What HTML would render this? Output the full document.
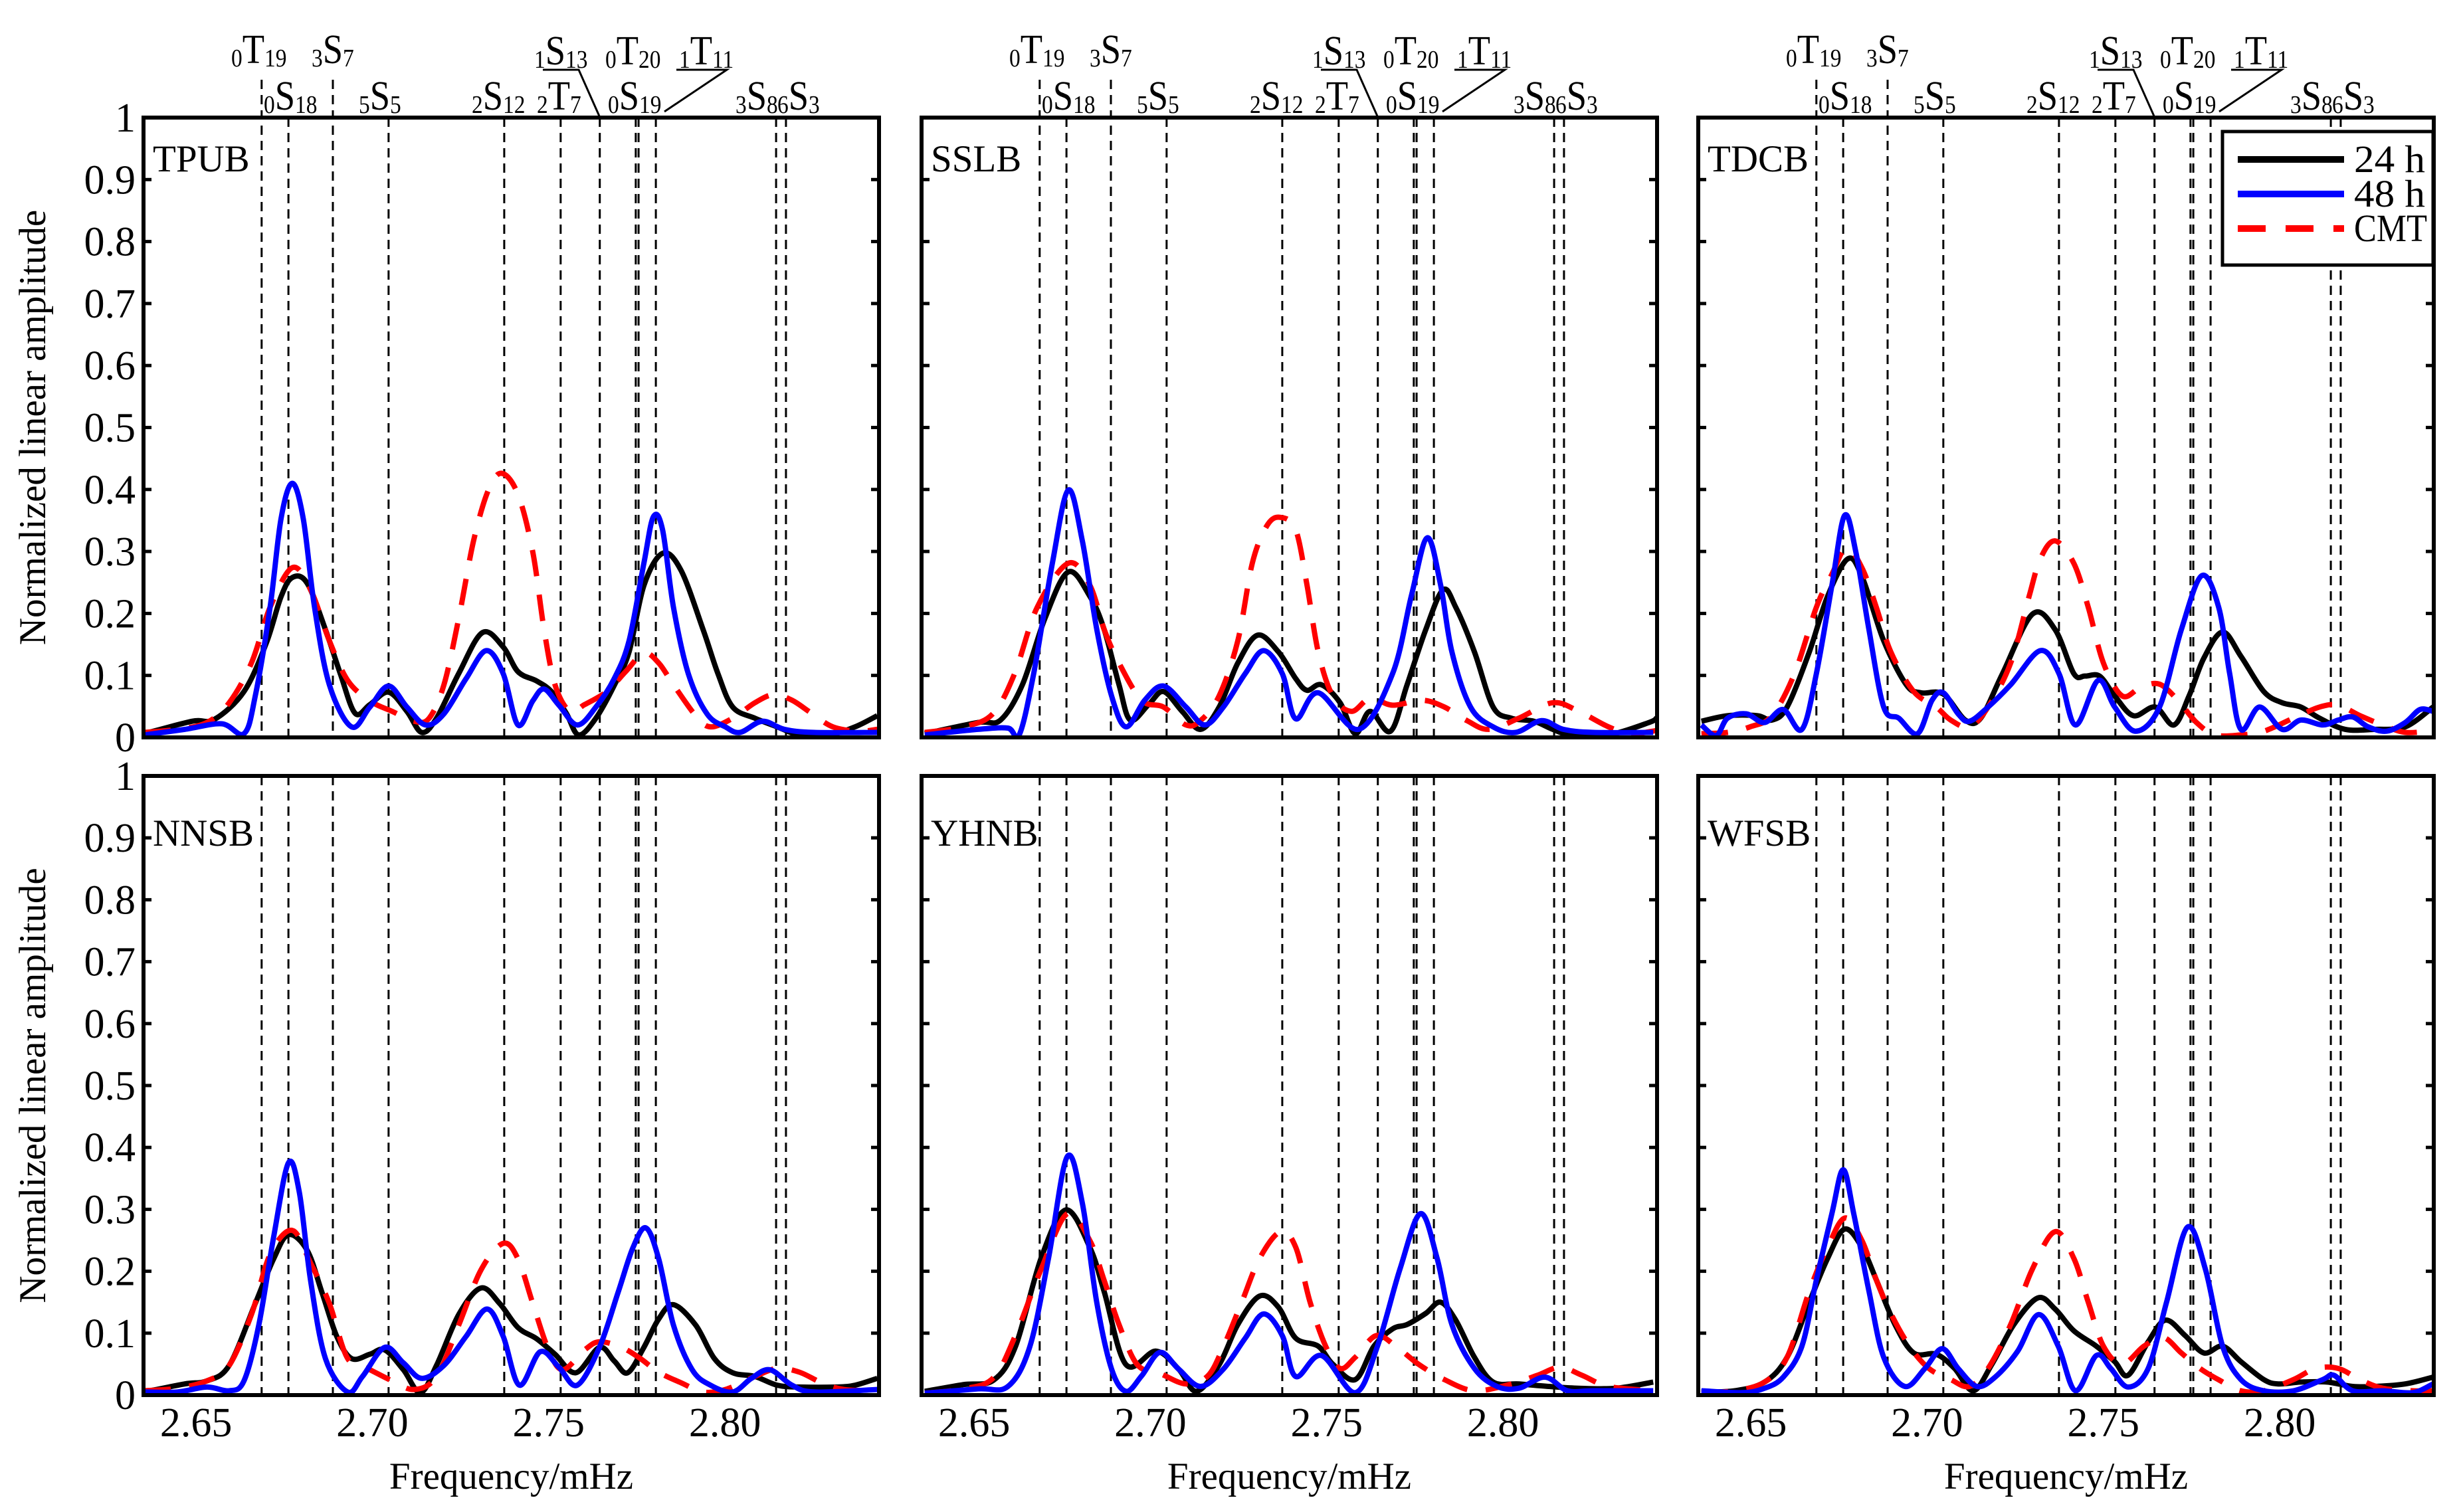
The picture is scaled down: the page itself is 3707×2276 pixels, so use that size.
<!DOCTYPE html>
<html><head><meta charset="utf-8"><title>Normalized amplitude spectra</title>
<style>
html,body{margin:0;padding:0;background:#fff;}
svg{display:block;}
text{font-family:"Liberation Serif",serif;fill:#000;}
</style></head>
<body>
<svg id="chart" xmlns="http://www.w3.org/2000/svg" width="3707" height="2276" viewBox="0 0 3707 2276">
<rect x="0" y="0" width="3707" height="2276" fill="#fff"/>
<g id="layer-lines"></g>
<g id="layer-curves"></g>
<g id="layer-axes"></g>
<g id="layer-text"></g>
</svg>
<script>
// ---- data: frequency (mHz) and normalized amplitude ----
const stations = ["TPUB","SSLB","TDCB","NNSB","YHNB","WFSB"];
const xTickValues = [2.65, 2.70, 2.75, 2.80];
const xTickLabels = ["2.65","2.70","2.75","2.80"];
const yTickValues = [0,0.1,0.2,0.3,0.4,0.5,0.6,0.7,0.8,0.9,1];
const yTickLabels = ["0","0.1","0.2","0.3","0.4","0.5","0.6","0.7","0.8","0.9","1"];
const modeFreqs = [2.6686,2.6762,2.6888,2.7046,2.7374,2.7534,2.7645,2.7747,2.7755,2.7804,2.8145,2.8173];

const tpubF24=[2.6353,2.6489,2.6552,2.6636,2.6699,2.6741,2.6773,2.6815,2.6867,2.6909,2.6951,2.6993,2.7046,2.7098,2.7140,2.7182,2.7245,2.7312,2.7371,2.7413,2.7466,2.7508,2.7550,2.7585,2.7634,2.7686,2.7728,2.7770,2.7823,2.7875,2.7938,2.7980,2.8022,2.8085,2.8148,2.8211,2.8295,2.8369,2.8432];
const tpubA24=[.006,.026,.029,.074,.152,.227,.258,.249,.174,.103,.039,.053,.073,.042,.008,.031,.103,.169,.146,.106,.091,.074,.039,.004,.031,.084,.138,.245,.297,.270,.174,.103,.049,.031,.017,.004,.004,.017,.035];
const tpubF48=[2.6353,2.6468,2.6573,2.6636,2.6668,2.6710,2.6741,2.6773,2.6804,2.6836,2.6878,2.6941,2.6993,2.7046,2.7098,2.7151,2.7203,2.7266,2.7323,2.7371,2.7413,2.7455,2.7487,2.7529,2.7581,2.7634,2.7686,2.7728,2.7770,2.7797,2.7823,2.7854,2.7896,2.7949,2.8001,2.8043,2.8106,2.8169,2.8253,2.8432];
const tpubA48=[.004,.013,.022,.006,.067,.210,.353,.410,.353,.210,.085,.017,.049,.083,.049,.020,.038,.095,.140,.103,.020,.059,.078,.052,.020,.049,.095,.156,.281,.356,.335,.210,.103,.038,.017,.008,.026,.013,.008,.008];
const tpubFc=[2.6353,2.6447,2.6531,2.6594,2.6657,2.6710,2.6773,2.6825,2.6878,2.6930,2.6993,2.7056,2.7119,2.7161,2.7203,2.7245,2.7287,2.7329,2.7367,2.7413,2.7455,2.7487,2.7518,2.7560,2.7602,2.7665,2.7718,2.7770,2.7812,2.7854,2.7917,2.7959,2.8022,2.8085,2.8138,2.8190,2.8243,2.8306,2.8379,2.8432];
const tpubAc=[.008,.013,.024,.056,.120,.210,.274,.238,.156,.092,.059,.042,.026,.031,.085,.192,.317,.399,.426,.392,.299,.174,.085,.042,.053,.074,.106,.136,.120,.085,.035,.017,.031,.056,.069,.060,.040,.017,.010,.013];

const sslbF24=[2.6360,2.6511,2.6575,2.6637,2.6701,2.6767,2.6828,2.6869,2.6911,2.6943,2.6995,2.7037,2.7090,2.7142,2.7195,2.7248,2.7304,2.7363,2.7412,2.7444,2.7485,2.7538,2.7581,2.7623,2.7681,2.7728,2.7781,2.7830,2.7866,2.7919,2.7972,2.8024,2.8088,2.8141,2.8194,2.8299,2.8414,2.8435];
const sslbA24=[.006,.024,.028,.085,.192,.267,.228,.174,.085,.028,.053,.074,.042,.013,.049,.120,.165,.138,.095,.076,.085,.056,.006,.042,.010,.085,.174,.238,.210,.138,.049,.031,.026,.013,.004,.004,.024,.031];
const sslbF48=[2.6360,2.6511,2.6596,2.6628,2.6669,2.6722,2.6767,2.6807,2.6848,2.6890,2.6931,2.6984,2.7037,2.7101,2.7154,2.7207,2.7269,2.7321,2.7374,2.7412,2.7476,2.7591,2.7687,2.7740,2.7785,2.7823,2.7855,2.7908,2.7972,2.8036,2.8109,2.8171,2.8256,2.8426];
const sslbA48=[.004,.013,.015,.004,.103,.281,.399,.317,.174,.067,.017,.060,.083,.049,.020,.049,.103,.140,.103,.030,.072,.013,.103,.228,.322,.246,.138,.049,.017,.008,.027,.013,.008,.008];
const sslbFc=[2.6360,2.6470,2.6553,2.6615,2.6679,2.6767,2.6828,2.6869,2.6911,2.6975,2.7037,2.7101,2.7142,2.7195,2.7248,2.7289,2.7331,2.7369,2.7412,2.7444,2.7476,2.7517,2.7570,2.7623,2.7687,2.7770,2.7834,2.7898,2.7960,2.8045,2.8141,2.8215,2.8299,2.8362,2.8435];
const sslbAc=[.008,.017,.038,.103,.210,.281,.246,.174,.120,.060,.049,.020,.027,.067,.156,.281,.342,.355,.335,.246,.138,.067,.042,.063,.052,.060,.049,.027,.013,.031,.056,.042,.017,.006,.011];

const tdcbF24=[2.6360,2.6434,2.6519,2.6560,2.6603,2.6666,2.6718,2.6775,2.6815,2.6877,2.6941,2.6982,2.7046,2.7108,2.7152,2.7214,2.7299,2.7363,2.7416,2.7448,2.7489,2.7532,2.7585,2.7647,2.7700,2.7743,2.7785,2.7838,2.7890,2.7955,2.8007,2.8060,2.8113,2.8186,2.8271,2.8356,2.8435];
const tdcbA24=[.026,.035,.035,.028,.049,.138,.228,.288,.260,.156,.085,.072,.070,.028,.031,.103,.199,.174,.103,.099,.099,.067,.035,.049,.020,.067,.128,.170,.131,.074,.056,.049,.031,.013,.013,.017,.049];
const tdcbF48=[2.6360,2.6402,2.6434,2.6487,2.6539,2.6592,2.6645,2.6686,2.6730,2.6766,2.6798,2.6835,2.6877,2.6920,2.6973,2.7014,2.7046,2.7088,2.7120,2.7173,2.7237,2.7321,2.7374,2.7421,2.7485,2.7532,2.7591,2.7659,2.7721,2.7779,2.7827,2.7858,2.7890,2.7943,2.8007,2.8060,2.8122,2.8166,2.8207,2.8251,2.8303,2.8356,2.8398,2.8435];
const tdcbA48=[.020,.003,.031,.038,.024,.045,.013,.103,.245,.358,.299,.174,.049,.031,.006,.060,.072,.038,.026,.049,.085,.140,.103,.020,.092,.049,.010,.049,.174,.261,.210,.103,.013,.049,.013,.028,.020,.028,.033,.017,.010,.024,.045,.042];
const tdcbFc=[2.6360,2.6434,2.6498,2.6560,2.6624,2.6686,2.6730,2.6771,2.6815,2.6856,2.6897,2.6962,2.7026,2.7067,2.7120,2.7173,2.7237,2.7289,2.7321,2.7363,2.7416,2.7457,2.7500,2.7553,2.7606,2.7659,2.7711,2.7764,2.7817,2.7890,2.7955,2.8039,2.8113,2.8166,2.8228,2.8292,2.8356,2.8435];
const tdcbAc=[.006,.008,.017,.035,.103,.210,.263,.306,.274,.210,.138,.074,.049,.028,.017,.049,.120,.227,.288,.317,.281,.210,.120,.067,.081,.086,.060,.024,.004,.004,.010,.031,.049,.052,.035,.020,.008,.011];

const nnsbF24=[2.6353,2.6468,2.6531,2.6594,2.6668,2.6720,2.6762,2.6815,2.6857,2.6899,2.6941,2.6993,2.7035,2.7088,2.7136,2.7182,2.7245,2.7308,2.7361,2.7413,2.7466,2.7518,2.7577,2.7644,2.7686,2.7724,2.7770,2.7812,2.7854,2.7917,2.7970,2.8022,2.8085,2.8148,2.8211,2.8316,2.8369,2.8432];
const nnsbA24=[.005,.018,.023,.048,.148,.220,.259,.234,.166,.095,.059,.066,.073,.041,.004,.048,.130,.173,.148,.109,.091,.066,.036,.077,.055,.036,.077,.123,.146,.113,.059,.036,.030,.016,.013,.013,.016,.027];
const nnsbF48=[2.6353,2.6447,2.6531,2.6594,2.6636,2.6678,2.6720,2.6762,2.6793,2.6825,2.6867,2.6930,2.6972,2.7035,2.7088,2.7140,2.7203,2.7266,2.7325,2.7371,2.7417,2.7476,2.7529,2.7581,2.7644,2.7697,2.7739,2.7776,2.7812,2.7854,2.7907,2.7959,2.8022,2.8075,2.8127,2.8190,2.8253,2.8432];
const nnsbA48=[.005,.005,.013,.007,.023,.113,.255,.375,.327,.184,.059,.005,.030,.077,.052,.027,.048,.095,.139,.095,.016,.070,.045,.016,.077,.166,.238,.270,.220,.113,.041,.016,.005,.027,.041,.016,.005,.009];
const nnsbFc=[2.6353,2.6447,2.6531,2.6594,2.6657,2.6710,2.6773,2.6825,2.6878,2.6930,2.6993,2.7056,2.7119,2.7182,2.7245,2.7308,2.7371,2.7413,2.7455,2.7497,2.7539,2.7602,2.7644,2.7707,2.7760,2.7812,2.7875,2.7938,2.8001,2.8085,2.8148,2.8211,2.8274,2.8337,2.8432];
const nnsbAc=[.007,.011,.023,.048,.130,.227,.266,.213,.148,.059,.041,.023,.009,.030,.113,.202,.245,.220,.148,.077,.041,.073,.086,.077,.059,.037,.020,.005,.009,.030,.043,.037,.020,.009,.007];

const yhnbF24=[2.6360,2.6470,2.6555,2.6617,2.6690,2.6760,2.6828,2.6869,2.6931,2.7016,2.7080,2.7131,2.7195,2.7248,2.7310,2.7363,2.7412,2.7476,2.7517,2.7581,2.7634,2.7687,2.7728,2.7781,2.7823,2.7866,2.7919,2.7972,2.8045,2.8130,2.8215,2.8320,2.8426];
const yhnbA24=[.006,.017,.024,.078,.221,.299,.239,.167,.049,.071,.042,.006,.049,.114,.160,.142,.092,.079,.050,.025,.079,.107,.114,.132,.150,.121,.061,.021,.018,.014,.011,.011,.021];
const yhnbF48=[2.6360,2.6511,2.6596,2.6658,2.6711,2.6764,2.6807,2.6848,2.6890,2.6931,2.6975,2.7027,2.7080,2.7142,2.7207,2.7269,2.7321,2.7374,2.7412,2.7485,2.7581,2.7644,2.7708,2.7766,2.7813,2.7855,2.7919,2.7983,2.8045,2.8119,2.8183,2.8256,2.8426];
const yhnbA48=[.003,.010,.014,.078,.221,.385,.310,.149,.042,.006,.031,.069,.042,.014,.042,.092,.131,.096,.030,.064,.004,.079,.204,.293,.221,.114,.043,.014,.011,.029,.007,.007,.007];
const yhnbFc=[2.6360,2.6470,2.6555,2.6617,2.6690,2.6764,2.6828,2.6869,2.6911,2.6963,2.7027,2.7101,2.7163,2.7207,2.7259,2.7310,2.7369,2.7412,2.7453,2.7497,2.7538,2.7581,2.7640,2.7696,2.7760,2.7834,2.7919,2.8024,2.8098,2.8162,2.8224,2.8299,2.8426];
const yhnbAc=[.003,.010,.028,.096,.203,.293,.250,.185,.114,.049,.035,.018,.031,.078,.150,.221,.264,.239,.150,.079,.043,.061,.096,.079,.050,.025,.007,.018,.032,.045,.032,.014,.007];

const wfsbF24=[2.6360,2.6455,2.6539,2.6603,2.6666,2.6718,2.6766,2.6815,2.6856,2.6909,2.6962,2.7026,2.7078,2.7131,2.7184,2.7246,2.7314,2.7363,2.7416,2.7480,2.7532,2.7570,2.7627,2.7676,2.7732,2.7785,2.7838,2.7890,2.7955,2.7996,2.8060,2.8134,2.8207,2.8271,2.8356,2.8435];
const wfsbA24=[.005,.007,.021,.061,.150,.221,.268,.239,.186,.114,.068,.066,.043,.007,.050,.114,.157,.139,.104,.079,.054,.032,.086,.121,.096,.068,.079,.054,.025,.018,.021,.021,.014,.014,.018,.029];
const wfsbF48=[2.6360,2.6477,2.6539,2.6592,2.6645,2.6686,2.6730,2.6762,2.6792,2.6835,2.6877,2.6937,2.6994,2.7043,2.7088,2.7141,2.7193,2.7257,2.7316,2.7372,2.7421,2.7480,2.7521,2.7570,2.7627,2.7679,2.7738,2.7789,2.7838,2.7890,2.7955,2.8039,2.8122,2.8154,2.8207,2.8292,2.8377,2.8435];
const wfsbA48=[.007,.004,.011,.029,.079,.186,.293,.364,.293,.168,.061,.014,.043,.075,.043,.014,.029,.071,.130,.079,.007,.064,.043,.013,.043,.150,.271,.204,.079,.025,.007,.007,.025,.032,.007,.007,.004,.018];
const wfsbFc=[2.6360,2.6455,2.6539,2.6603,2.6666,2.6718,2.6767,2.6815,2.6856,2.6897,2.6950,2.7005,2.7067,2.7120,2.7173,2.7237,2.7299,2.7363,2.7416,2.7457,2.7500,2.7553,2.7615,2.7670,2.7721,2.7774,2.7826,2.7890,2.7955,2.8039,2.8102,2.8166,2.8228,2.8292,2.8377,2.8435];
const wfsbAc=[.004,.007,.021,.061,.168,.239,.286,.250,.186,.132,.079,.043,.025,.014,.043,.114,.204,.264,.221,.150,.079,.050,.079,.093,.068,.043,.025,.007,.007,.025,.043,.043,.025,.011,.007,.007];

const seriesF24=[tpubF24,sslbF24,tdcbF24,nnsbF24,yhnbF24,wfsbF24];
const seriesA24=[tpubA24,sslbA24,tdcbA24,nnsbA24,yhnbA24,wfsbA24];
const seriesF48=[tpubF48,sslbF48,tdcbF48,nnsbF48,yhnbF48,wfsbF48];
const seriesA48=[tpubA48,sslbA48,tdcbA48,nnsbA48,yhnbA48,wfsbA48];
const seriesFc=[tpubFc,sslbFc,tdcbFc,nnsbFc,yhnbFc,wfsbFc];
const seriesAc=[tpubAc,sslbAc,tdcbAc,nnsbAc,yhnbAc,wfsbAc];

// ---- layout ----
const NS="http://www.w3.org/2000/svg";
const X_MIN=2.6351, X_PX=5307, PW=1107;
const colLeft=[216,1387,2556];
const rowTop=[177,1168], rowBottom=[1110,2100];
function xScale(col,f){return colLeft[col]+(f-X_MIN)*X_PX;}
function yScale(row,v){return rowBottom[row]-v*(rowBottom[row]-rowTop[row]);}
function mk(tag,attrs,parent){const e=document.createElementNS(NS,tag);for(const k in attrs)e.setAttribute(k,attrs[k]);parent.appendChild(e);return e;}
function crPath(pts){
  let d="M"+pts[0][0].toFixed(1)+","+pts[0][1].toFixed(1);
  for(let i=0;i<pts.length-1;i++){
    const p0=pts[Math.max(i-1,0)],p1=pts[i],p2=pts[i+1],p3=pts[Math.min(i+2,pts.length-1)];
    const c1x=p1[0]+(p2[0]-p0[0])/6,c1y=p1[1]+(p2[1]-p0[1])/6;
    const c2x=p2[0]-(p3[0]-p1[0])/6,c2y=p2[1]-(p3[1]-p1[1])/6;
    d+=" C"+c1x.toFixed(1)+","+c1y.toFixed(1)+" "+c2x.toFixed(1)+","+c2y.toFixed(1)+" "+p2[0].toFixed(1)+","+p2[1].toFixed(1);
  }
  return d;
}
const svg=document.getElementById("chart");
const gLines=document.getElementById("layer-lines");
const gCurves=document.getElementById("layer-curves");
const gAxes=document.getElementById("layer-axes");
const gText=document.getElementById("layer-text");
const defs=mk("defs",{},svg);

for(let p=0;p<6;p++){
  const col=p%3,row=Math.floor(p/3);
  const L=colLeft[col],T=rowTop[row],B=rowBottom[row];
  const cp=mk("clipPath",{id:"clip"+p},defs);
  mk("rect",{x:L,y:T,width:PW,height:B-T},cp);
  modeFreqs.forEach((f,i)=>{
    const x=xScale(col,f);
    const top=(row===0&&(i===0||i===2))?120:T;
    const ln=mk("line",{x1:x,y1:top,x2:x,y2:B,stroke:"#000","stroke-width":3,"stroke-dasharray":"14 9"},gLines);
    
    
  });
  const g=mk("g",{"clip-path":"url(#clip"+p+")"},gCurves);
  
  
  const defsS=[[seriesFc[p],seriesAc[p],"#ff0000","40 28","cmt"],[seriesF24[p],seriesA24[p],"#000000",null,"24h"],[seriesF48[p],seriesA48[p],"#0000ff",null,"48h"]];
  const order=[1,0,2];
  order.forEach(k=>{
    const s=defsS[k];const n=Math.min(s[0].length,s[1].length);const pts=[];
    for(let i=0;i<n;i++)pts.push([xScale(col,s[0][i]),yScale(row,s[1][i])]);
    const a={d:crPath(pts),fill:"none",stroke:s[2],"stroke-width":8,"stroke-linejoin":"round"};
    if(s[3])a["stroke-dasharray"]=s[3];
    const path=mk("path",a,g);
    
    
  });
  const box=mk("rect",{x:L,y:T,width:PW,height:B-T,fill:"none",stroke:"#000","stroke-width":6},gAxes);
  
  
  yTickValues.forEach((v,i)=>{
    const y=yScale(row,v);
    mk("line",{x1:L,y1:y,x2:L+12,y2:y,stroke:"#000","stroke-width":5},gAxes);
    mk("line",{x1:L+PW-12,y1:y,x2:L+PW,y2:y,stroke:"#000","stroke-width":5},gAxes);
    if(col===0){
      const t=mk("text",{x:L-12,y:y+21,"font-size":62,"text-anchor":"end"},gText);
      t.textContent=yTickLabels[i];
      
      
    }
  });
  if(row===1){
    xTickValues.forEach((v,i)=>{
      const t=mk("text",{x:xScale(col,v),y:2162,"font-size":62,"text-anchor":"middle"},gText);
      t.textContent=xTickLabels[i];
      
      
    });
    const xt=mk("text",{x:L+PW/2,y:2241,"font-size":57,"text-anchor":"middle"},gText);
    xt.textContent="Frequency/mHz";
    
    
  }
  const st=mk("text",{x:L+14,y:row===0?T+81:T+105,"font-size":57},gText);
  st.textContent=stations[p];
  
  
  if(col===0){
    const yt=mk("text",{x:0,y:0,"font-size":57,"text-anchor":"middle",transform:"translate(68,"+((T+B)/2)+") rotate(-90)"},gText);
    yt.textContent="Normalized linear amplitude";
    
    
  }
  if(row===0){
    const labs=[["0","T","19",132,95],["3","S","7",253,95],["1","S","13",588,97],["0","T","20",695,97],["1","T","11",806,97],
                ["0","S","18",181,165],["5","S","5",324,165],["2","S","12",494,165],["2","T","7",592,165],["0","S","19",699,165],["3","S","8",891,165],["6","S","3",954,165]];
    labs.forEach(l=>{
      const t=mk("text",{x:0,y:0,"font-size":62,transform:"translate("+(L+l[3])+","+l[4]+") scale(0.88,1)"},gText);
      
      
      const a=mk("tspan",{"font-size":38,dy:5},t);a.textContent=l[0];
      const b=mk("tspan",{"font-size":62,dy:-5},t);b.textContent=l[1];
      const c=mk("tspan",{"font-size":38,dy:5},t);c.textContent=l[2];
    });
    const o1=mk("polyline",{points:(L+601)+",105 "+(L+655)+",105 "+(L+687)+",177",fill:"none",stroke:"#000","stroke-width":3},gText);
    
    
    const o2=mk("polyline",{points:(L+802)+",105 "+(L+878)+",105 "+(L+784)+",168",fill:"none",stroke:"#000","stroke-width":3},gText);
    
    
  }
}
const lg=mk("g",{},svg);


mk("rect",{x:3345,y:198,width:317,height:201,fill:"#fff",stroke:"#000","stroke-width":5},lg);
const legNames=["24 h","48 h","CMT"],legColors=["#000","#0000ff","#ff0000"],legY=[240,292,344],legW=[107,107,110];
for(let i=0;i<3;i++){
  const ln=mk("line",{x1:3368,y1:legY[i],x2:3528,y2:legY[i],stroke:legColors[i],"stroke-width":10},lg);
  if(i===2)ln.setAttribute("stroke-dasharray","42 30");
  
  
  const t=mk("text",{x:3543,y:legY[i]+19,"font-size":58,textLength:legW[i],lengthAdjust:"spacingAndGlyphs"},lg);
  t.textContent=legNames[i];
  
  
}
</script>
</body></html>
